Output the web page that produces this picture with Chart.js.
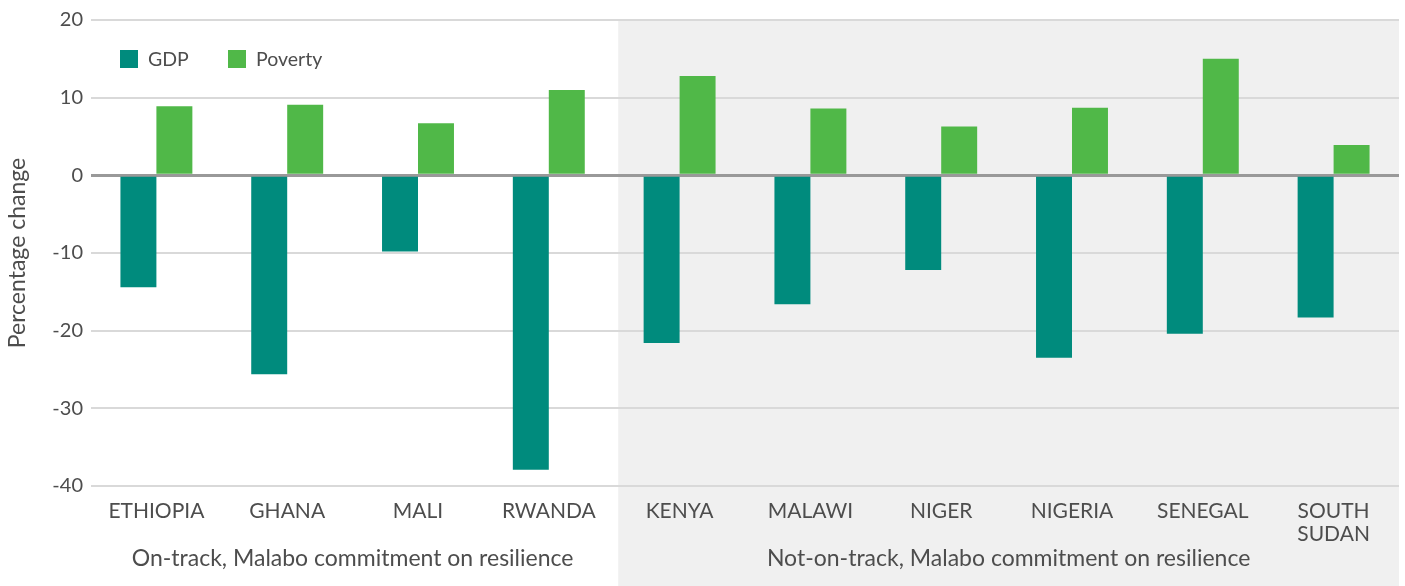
<!DOCTYPE html>
<html>
<head>
<meta charset="utf-8">
<script src="https://cdn.jsdelivr.net/npm/chart.js@4"></script>
<style>
  html, body { margin: 0; padding: 0; background: #fff; }
  #wrap { width: 1405px; height: 586px; }
</style>
</head>
<body>
<div id="wrap"><canvas id="myChart" width="1405" height="586"></canvas></div>
<script>
const countries = ['ETHIOPIA', 'GHANA', 'MALI', 'RWANDA', 'KENYA', 'MALAWI', 'NIGER', 'NIGERIA', 'SENEGAL', ['SOUTH', 'SUDAN']];
const gdp = [-14.4, -25.6, -9.8, -37.9, -21.6, -16.6, -12.2, -23.5, -20.4, -18.3];
const poverty = [8.9, 9.1, 6.7, 11.0, 12.8, 8.6, 6.3, 8.7, 15.0, 3.9];
const groups = ['On-track, Malabo commitment on resilience', 'Not-on-track, Malabo commitment on resilience'];
const onTrackCount = 4; // first 4 countries are on-track

const textColor = '#4d4d4d';
const fontFamily = 'Lato, "Noto Sans", sans-serif';

// grey band behind the not-on-track countries, plus group labels and legend
const decorPlugin = {
    id: 'decor',
    beforeDraw(chart) {
        const { ctx, chartArea, scales } = chart;
        const x = scales.x;
        const split = (x.getPixelForValue(onTrackCount - 1) + x.getPixelForValue(onTrackCount)) / 2 + 4;
        ctx.save();
        ctx.fillStyle = '#f0f0f0';
        ctx.fillRect(split, chartArea.top, chartArea.right - split, chart.height - chartArea.top);
        ctx.restore();
    },
    afterDraw(chart) {
        const { ctx, chartArea, scales } = chart;
        const x = scales.x;
        const split = (x.getPixelForValue(onTrackCount - 1) + x.getPixelForValue(onTrackCount)) / 2 + 4;
        ctx.save();
        ctx.fillStyle = textColor;
        ctx.font = '23px ' + fontFamily;
        ctx.textAlign = 'center';
        ctx.textBaseline = 'middle';
        ctx.fillText(groups[0], (chartArea.left + split - 4) / 2, 559);
        ctx.fillText(groups[1], (split + chartArea.right) / 2, 559);

        // legend
        ctx.textAlign = 'left';
        ctx.font = '19.5px ' + fontFamily;
        let lx = 120;
        chart.data.datasets.forEach(ds => {
            ctx.fillStyle = ds.backgroundColor;
            ctx.fillRect(lx, 50, 18, 18);
            ctx.fillStyle = textColor;
            ctx.fillText(ds.label, lx + 28, 60);
            lx += 108;
        });
        ctx.restore();
    }
};

const ctx = document.getElementById('myChart').getContext('2d');
const myChart = new Chart(ctx, {
    type: 'bar',
    data: {
        labels: countries,
        datasets: [
            {
                label: 'GDP',
                data: gdp,
                backgroundColor: '#008b7d',
                barPercentage: 1,
                categoryPercentage: 0.55
            },
            {
                label: 'Poverty',
                data: poverty,
                backgroundColor: '#50b848',
                barPercentage: 1,
                categoryPercentage: 0.55
            }
        ]
    },
    options: {
        responsive: false,
        animation: false,
        layout: { padding: { top: 19, right: 6, left: 0, bottom: 0 } },
        plugins: {
            legend: { display: false },
            tooltip: { enabled: false }
        },
        scales: {
            x: {
                grid: { display: false },
                border: { display: false },
                ticks: {
                    color: textColor,
                    font: { family: fontFamily, size: 21, lineHeight: 1.1 },
                    padding: 6,
                    maxRotation: 0,
                    autoSkip: false
                },
                afterFit(scale) { scale.height = 100; }
            },
            y: {
                min: -40,
                max: 20,
                border: { display: false },
                grid: {
                    drawTicks: false,
                    color: c => c.tick && c.tick.value === 0 ? '#999999' : '#d9d9d9',
                    lineWidth: c => c.tick && c.tick.value === 0 ? 3 : 2
                },
                ticks: {
                    stepSize: 10,
                    color: textColor,
                    font: { family: fontFamily, size: 20 },
                    padding: 8
                },
                title: {
                    display: true,
                    text: 'Percentage change',
                    color: textColor,
                    font: { family: fontFamily, size: 23 },
                    padding: { top: 4, bottom: 0 }
                },
                afterFit(scale) { scale.width = 91; }
            }
        }
    },
    plugins: [decorPlugin]
});
</script>
</body>
</html>
